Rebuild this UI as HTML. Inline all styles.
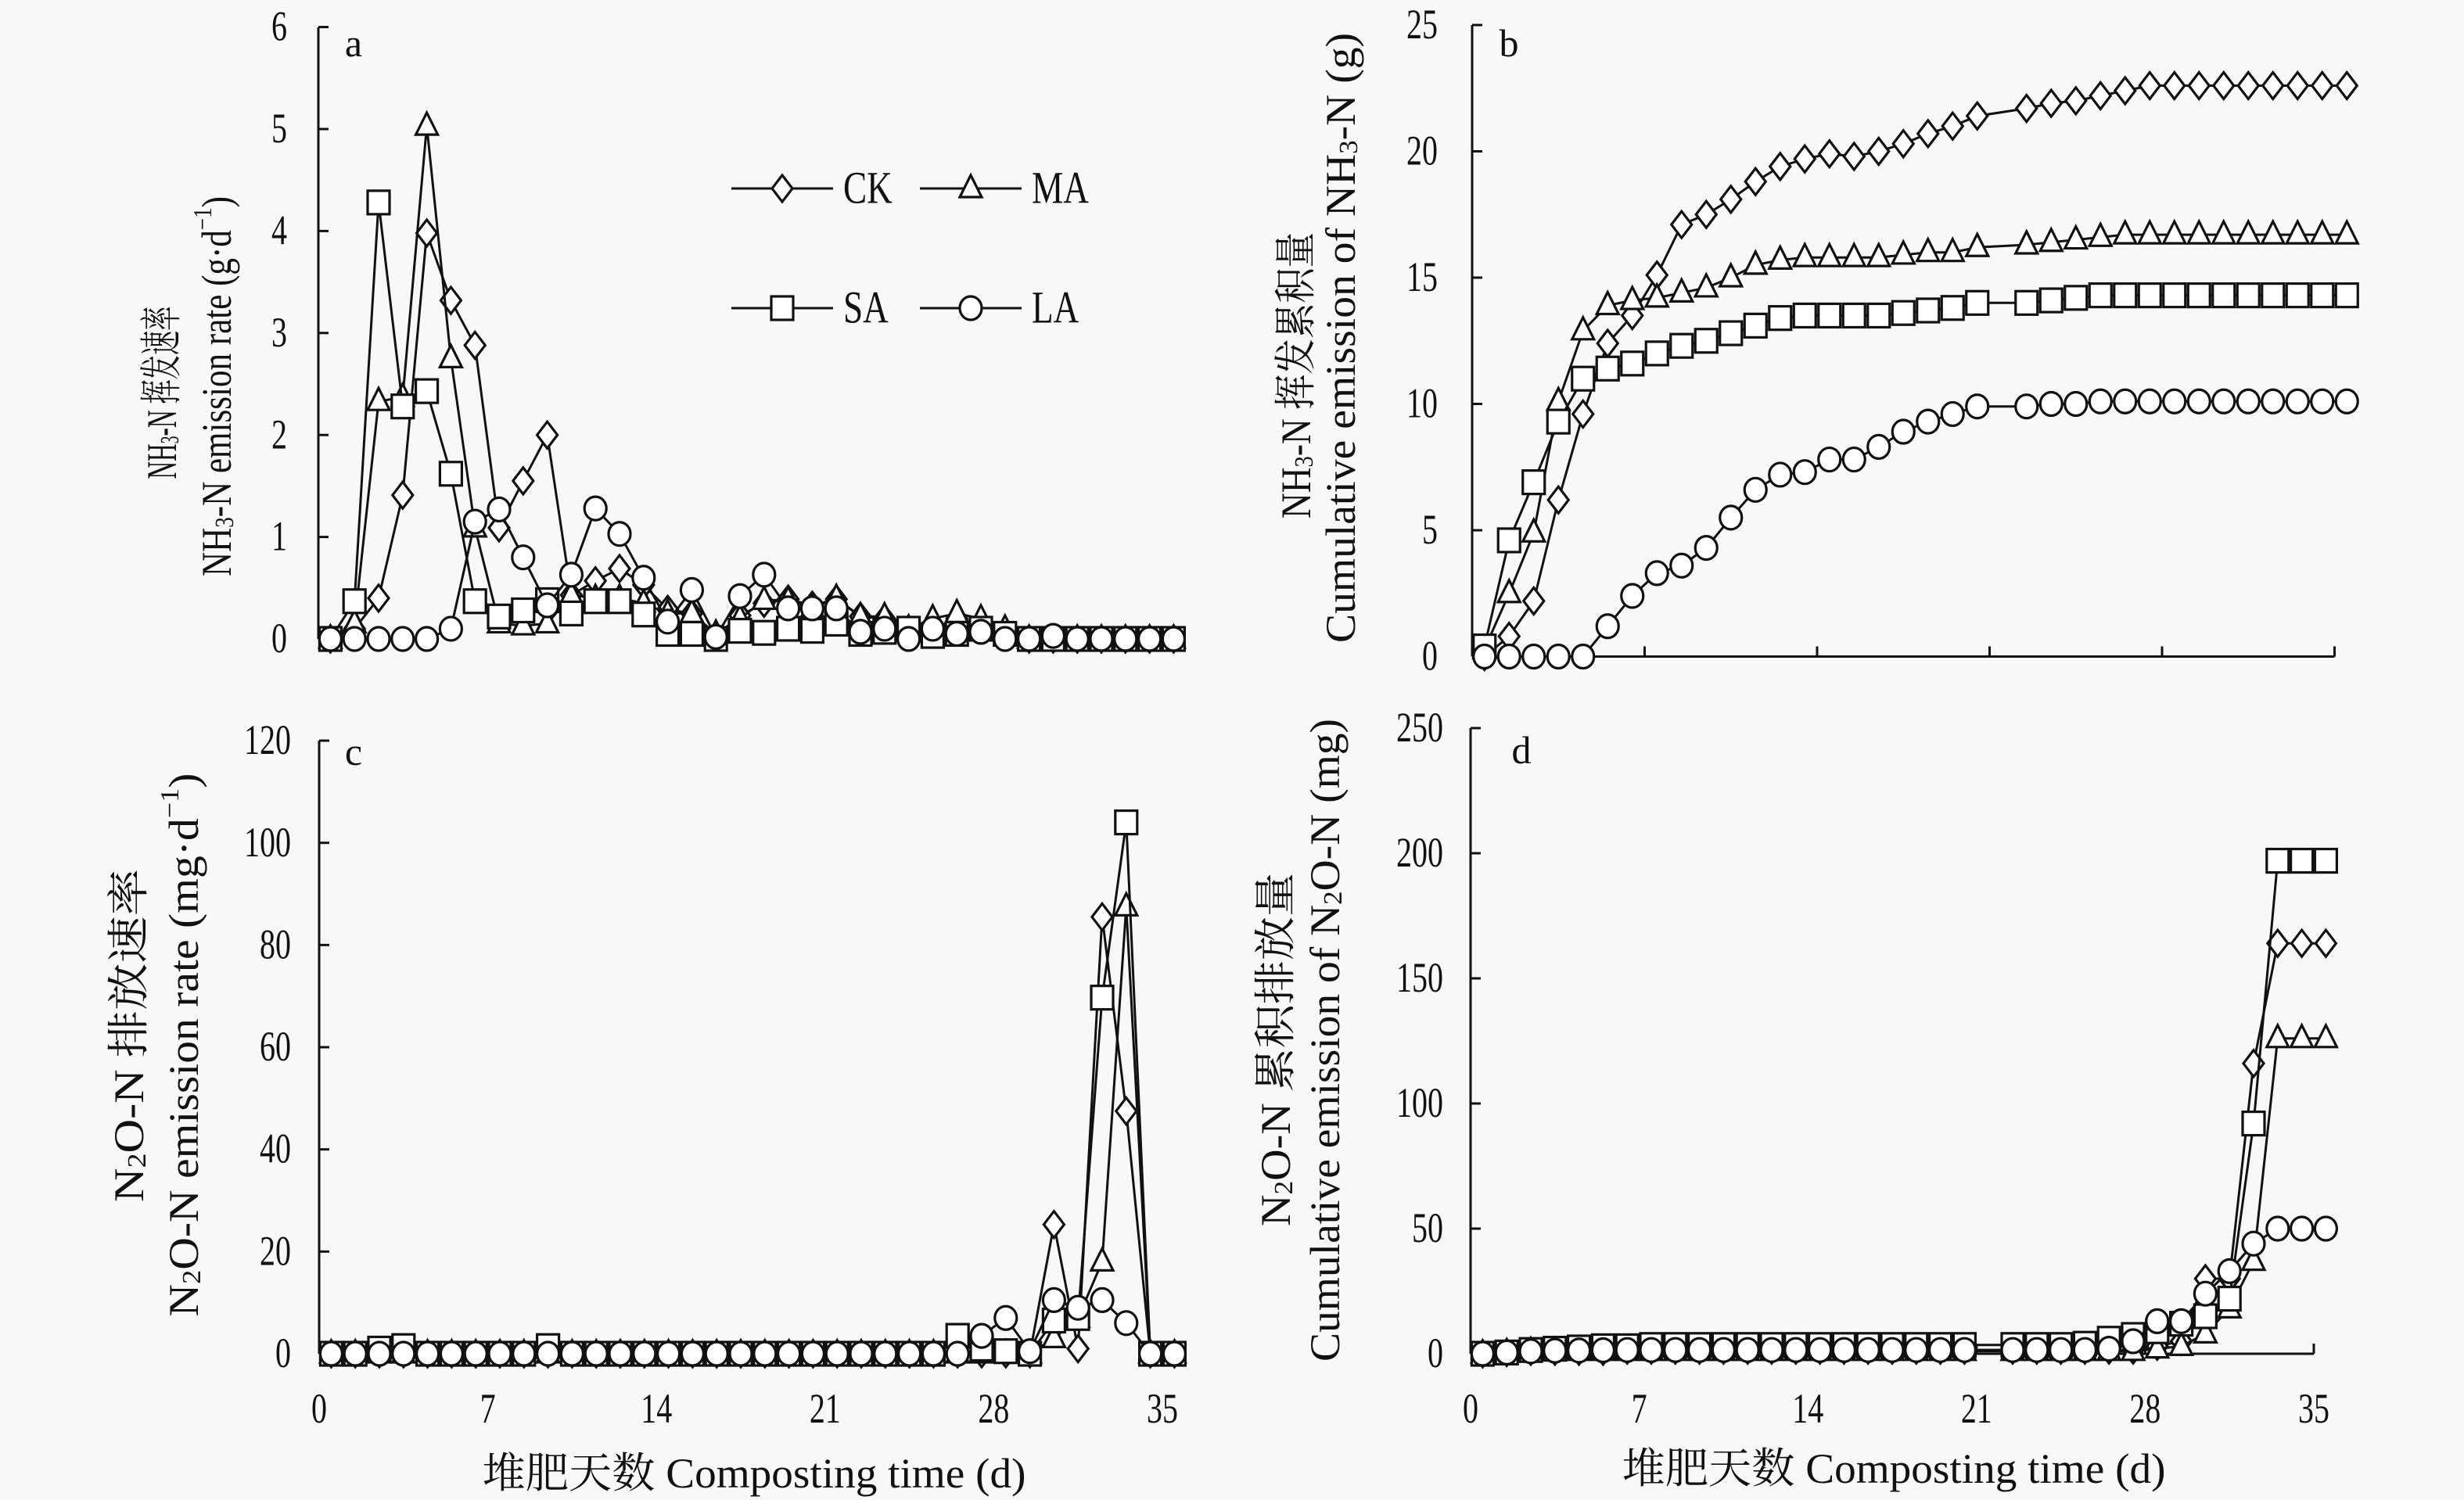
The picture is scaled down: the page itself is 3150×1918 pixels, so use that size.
<!DOCTYPE html>
<html><head><meta charset="utf-8"><style>
html,body{margin:0;padding:0;background:#f8f8f8;}
svg{display:block;}
text{font-family:"Liberation Serif","Noto Serif CJK SC","Noto Sans CJK SC",serif;fill:#111;}
</style></head><body>
<svg id="fig" width="3150" height="1918" viewBox="0 0 3150 1918" xmlns="http://www.w3.org/2000/svg">
<rect x="0" y="0" width="3150" height="1918" fill="#f8f8f8"/>
</svg>
<script>
// ---- data (index i => day i+0.5) ----
const aTicks = [0,1,2,3,4,5,6];
const bTicks = [0,5,10,15,20,25];
const cTicks = [0,20,40,60,80,100,120];
const dTicks = [0,50,100,150,200,250];
const dayTicks = [0,7,14,21,28,35];
const seriesNames = ["CK","MA","SA","LA"];

const aCK = [0,0.1,0.4,1.41,3.98,3.32,2.88,1.09,1.55,2.0,0.43,0.57,0.69,0.53,0.29,0.25,0.03,0.23,0.35,0.39,0.33,0.39,0.22,0.2,0.05,0.1,0.2,0.15,0.05,0,0,0,0,0,0,0];
const aMA = [0,0.15,2.33,2.37,5.03,2.75,1.09,0.15,0.13,0.15,0.43,0.4,0.4,0.35,0.25,0.25,0.05,0.2,0.38,0.38,0.3,0.4,0.22,0.22,0.1,0.2,0.25,0.2,0.1,0,0,0,0,0,0,0];
const aSA = [0,0.37,4.28,2.28,2.43,1.62,0.37,0.22,0.28,0.38,0.25,0.37,0.37,0.24,0.05,0.05,0,0.08,0.06,0.1,0.08,0.15,0.05,0.07,0.1,0.03,0.05,0.1,0.05,0,0,0,0,0,0,0];
const aLA = [0,0,0,0,0,0.1,1.15,1.27,0.8,0.33,0.63,1.28,1.03,0.6,0.17,0.48,0.02,0.42,0.63,0.3,0.3,0.3,0.07,0.1,0,0.1,0.05,0.07,0,0,0.03,0,0,0,0,0];

const bCK = [0,0.8,2.2,6.2,9.6,12.4,13.5,15.1,17.1,17.5,18.1,18.8,19.4,19.7,19.9,19.8,20.0,20.3,20.7,21.0,21.4,null,21.7,21.9,22.0,22.2,22.4,22.6,22.6,22.6,22.6,22.6,22.6,22.6,22.6,22.6];
const bMA = [0.3,2.5,4.9,10.1,12.9,13.9,14.1,14.2,14.4,14.6,15.0,15.5,15.7,15.8,15.8,15.8,15.8,15.9,16.0,16.0,16.2,null,16.3,16.4,16.5,16.6,16.7,16.7,16.7,16.7,16.7,16.7,16.7,16.7,16.7,16.7];
const bSA = [0.4,4.6,6.9,9.3,11.0,11.4,11.6,12.0,12.3,12.5,12.8,13.1,13.4,13.5,13.5,13.5,13.5,13.6,13.7,13.8,14.0,null,14.0,14.1,14.2,14.3,14.3,14.3,14.3,14.3,14.3,14.3,14.3,14.3,14.3,14.3];
const bLA = [0,0,0,0,0,1.2,2.4,3.3,3.6,4.3,5.5,6.6,7.2,7.3,7.8,7.8,8.3,8.9,9.3,9.6,9.9,null,9.9,10.0,10.0,10.1,10.1,10.1,10.1,10.1,10.1,10.1,10.1,10.1,10.1,10.1];

const cCK = [0,0,0,0,0,0,0,0,0,0,0,0,0,0,0,0,0,0,0,0,0,0,0,0,0,0,0,0,0,0,25.3,1,85.5,47.5,0,0];
const cMA = [0,0,0,0,0,0,0,0,0,0,0,0,0,0,0,0,0,0,0,0,0,0,0,0,0,0,0,0,0,0,3,7,18,87.5,0,0];
const cSA = [0,0,1,1.5,0,0,0,0,0,1.5,0,0,0,0,0,0,0,0,0,0,0,0,0,0,0,0,3.5,1,0.5,0,6.5,7,69.7,104,0,0];
const cLA = [0,0,0,0,0,0,0,0,0,0,0,0,0,0,0,0,0,0,0,0,0,0,0,0,0,0,0,3.5,7,0.5,10.5,9,10.5,6,0,0];

const dCK = [0,0.5,1,1,1,1,1.5,1.5,1.5,1.5,1.5,1.5,1.5,1.5,1.5,1.5,1.5,1.5,1.5,1.5,1.5,null,1.5,1.5,1.5,1.5,1.5,1.5,3,5,30,30,116,164,164,164];
const dMA = [0,0.5,1,1,1,1,1,1,1,1,1,1,1,1,1,1,1,1,1,1,1,null,1,1,1,1,1,1,2,3,8,18,37,126,126,126];
const dSA = [0,0.5,1.5,2,2.5,3,3,3.5,3.5,3.5,3.5,3.5,3.5,3.5,3.5,3.5,3.5,3.5,3.5,3.5,3.5,null,3.5,3.5,3.5,4,6,7.5,9,12,15,22,92,197,197,197];
const dLA = [0,0.5,1,1.2,1.3,1.4,1.5,1.5,1.5,1.5,1.5,1.5,1.5,1.5,1.5,1.5,1.5,1.5,1.5,1.5,1.5,null,1.5,1.5,1.5,1.5,2,5,13,13,24,33,44,50,50,50];

const NS = "http://www.w3.org/2000/svg";
const svg = document.getElementById("fig");
function mk(tag, attrs, parent){
  const e = document.createElementNS(NS, tag);
  for (const k in attrs) e.setAttribute(k, attrs[k]);
  (parent||svg).appendChild(e);
  return e;
}

// panel geometry
const panels = {
  a:{x0:407, dx:30.8, y0:817, ky:130.4, top:35, xEnd:null, ticks:aTicks, lab:"a", labX:452, labY:72, tickRight:367, xLabels:false},
  b:{x0:1882, dx:31.5, y0:839.5, ky:32.3, top:32, xEnd:35, ticks:bTicks, lab:"b", labX:1929, labY:72, tickRight:1838, xLabels:false},
  c:{x0:408, dx:30.8, y0:1731, ky:6.533, top:947, xEnd:null, ticks:cTicks, lab:"c", labX:452, labY:978, tickRight:372, xLabels:true},
  d:{x0:1880, dx:30.8, y0:1731, ky:3.2, top:931, xEnd:35, ticks:dTicks, lab:"d", labX:1945, labY:976, tickRight:1845, xLabels:true}
};
function sx(p, day){ return p.x0 + day*p.dx; }
function sy(p, v){ return p.y0 - v*p.ky; }

function drawAxes(key){
  const p = panels[key];
  const g = mk("g", {});
  
  
  const yl = mk("line", {x1:p.x0, y1:p.top, x2:p.x0, y2:p.y0, stroke:"#111", "stroke-width":3}, g);
  
  
  p.ticks.forEach(v => {
    const y = sy(p, v);
    const t = mk("line", {x1:p.x0, y1:y, x2:p.x0+13, y2:y, stroke:"#111", "stroke-width":3}, g);
    
    
    const tx = mk("text", {x:0, y:0, "font-size":54, "text-anchor":"end", "dominant-baseline":"central",
      transform:"translate(" + p.tickRight + "," + y + ") scale(0.74,1)"}, g);
    tx.textContent = v;
    
    
  });
  if (p.xEnd !== null){
    const xe = sx(p, p.xEnd);
    const xl = mk("line", {x1:p.x0, y1:p.y0, x2:xe, y2:p.y0, stroke:"#111", "stroke-width":3}, g);
    
    
    dayTicks.forEach(d => {
      if (d === 0) return;
      const x = sx(p, d);
      const t = mk("line", {x1:x, y1:p.y0, x2:x, y2:p.y0-13, stroke:"#111", "stroke-width":3}, g);
      
      
    });
  }
  if (p.xLabels){
    dayTicks.forEach(d => {
      const tx = mk("text", {x:0, y:0, "font-size":54, "text-anchor":"middle", "dominant-baseline":"central",
        transform:"translate(" + sx(p, d) + ",1802) scale(0.74,1)"}, g);
      tx.textContent = d;
      
      
    });
  }
  const lb = mk("text", {x:p.labX, y:p.labY, "font-size":50, "text-anchor":"middle"}, g);
  lb.textContent = p.lab;
  
  
}

function marker(type, x, y, parent){
  let e;
  if (type === "CK") e = mk("polygon", {points:(x)+","+(y-17)+" "+(x+13)+","+y+" "+x+","+(y+17)+" "+(x-13)+","+y}, parent);
  else if (type === "MA") e = mk("polygon", {points:x+","+(y-17)+" "+(x+14)+","+(y+11)+" "+(x-14)+","+(y+11)}, parent);
  else if (type === "SA") e = mk("rect", {x:x-14, y:y-15, width:28, height:30}, parent);
  else e = mk("ellipse", {cx:x, cy:y, rx:14, ry:15}, parent);
  e.setAttribute("fill", "#fff");
  e.setAttribute("stroke", "#111");
  e.setAttribute("stroke-width", 3.2);
  return e;
}

function drawSeries(key, name, arr){
  const p = panels[key];
  const g = mk("g", {});
  
  
  const pts = [];
  arr.forEach((v, i) => { if (v !== null) pts.push([sx(p, i+0.5), sy(p, v)]); });
  const path = mk("path", {d:"M" + pts.map(q => q[0].toFixed(1)+","+q[1].toFixed(1)).join(" L"), fill:"none", stroke:"#111", "stroke-width":3}, g);
  
  
  pts.forEach(q => {
    const m = marker(name, q[0], q[1], g);
    
    
  });
}

["a","b","c","d"].forEach(drawAxes);
const dataMap = {a:[aCK,aMA,aSA,aLA], b:[bCK,bMA,bSA,bLA], c:[cCK,cMA,cSA,cLA], d:[dCK,dMA,dSA,dLA]};
["a","b","c","d"].forEach(k => { seriesNames.forEach((n, j) => drawSeries(k, n, dataMap[k][j])); });

// legend
const legendPos = [["CK",935,241],["MA",1176,241],["SA",935,394],["LA",1176,394]];
legendPos.forEach(L => {
  const g = mk("g", {});
  
  
  mk("line", {x1:L[1], y1:L[2], x2:L[1]+130, y2:L[2], stroke:"#111", "stroke-width":3}, g);
  marker(L[0], L[1]+65, L[2], g);
  const t = mk("text", {x:0, y:0, "font-size":58, "dominant-baseline":"central", transform:"translate(" + (L[1]+143) + "," + L[2] + ") scale(0.78,1)"}, g);
  t.textContent = L[0];
});

// axis titles
function vtitle(name, x, y, len, parts){
  const t = mk("text", {x:0, y:0, "font-size":54, "text-anchor":"middle", "dominant-baseline":"central",
    transform:"translate(" + x + "," + y + ") rotate(-90)", textLength:len, lengthAdjust:"spacingAndGlyphs"});
  
  
  parts.forEach(pt => {
    const s = document.createElementNS(NS, "tspan");
    s.textContent = pt[0];
    if (pt[1] === "sub") { s.setAttribute("font-size", 34); s.setAttribute("dy", 10); }
    else if (pt[1] === "sup") { s.setAttribute("font-size", 34); s.setAttribute("dy", -18); }
    else if (pt[1] === "back") { s.setAttribute("dy", -10); }
    else if (pt[1] === "backsup") { s.setAttribute("dy", 18); }
    t.appendChild(s);
  });
}
vtitle("y-axis-title-a-cn", 207, 502, 221, [["NH"],["3","sub"],["-N 挥发速率","back"]]);
vtitle("y-axis-title-a-en", 277, 494, 486, [["NH"],["3","sub"],["-N emission rate (g·d","back"],["−1","sup"],[")","backsup"]]);
vtitle("y-axis-title-b-cn", 1657, 480, 366, [["NH"],["3","sub"],["-N 挥发累积量","back"]]);
vtitle("y-axis-title-b-en", 1714, 432, 780, [["Cumulative emission of NH"],["3","sub"],["-N (g)","back"]]);
vtitle("y-axis-title-c-cn", 165, 1324, 426, [["N"],["2","sub"],["O-N 排放速率","back"]]);
vtitle("y-axis-title-c-en", 235, 1336, 695, [["N"],["2","sub"],["O-N emission rate (mg·d","back"],["−1","sup"],[")","backsup"]]);
vtitle("y-axis-title-d-cn", 1631, 1342, 452, [["N"],["2","sub"],["O-N 累积排放量","back"]]);
vtitle("y-axis-title-d-en", 1694, 1330, 822, [["Cumulative emission of N"],["2","sub"],["O-N (mg)","back"]]);

function xtitle(name, cx, y, len){
  const t = mk("text", {x:cx, y:y, "font-size":54, "text-anchor":"middle", "dominant-baseline":"central", textLength:len, lengthAdjust:"spacingAndGlyphs"});
  t.textContent = "堆肥天数 Composting time (d)";
  
  
}
xtitle("x-axis-title-c", 964, 1884, 695);
xtitle("x-axis-title-d", 2421, 1878, 695);
</script>
</body></html>
